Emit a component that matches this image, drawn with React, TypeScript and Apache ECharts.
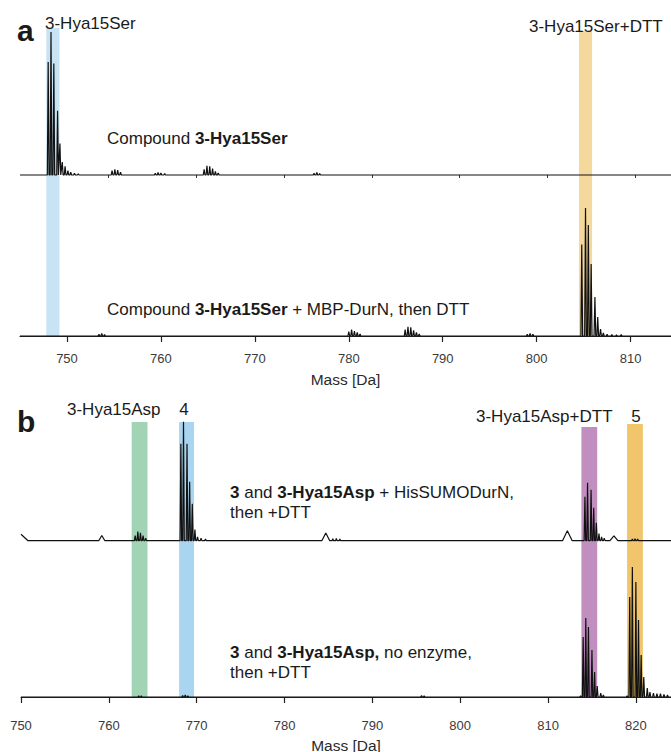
import React, { useEffect, useRef } from "react";
import * as echarts from "echarts";

// ---------- data ----------
const rangeA: [number, number] = [745, 814.3];
const rangeB: [number, number] = [750, 824];
const ticksA = [750, 760, 770, 780, 790, 800, 810];
const ticksB = [750, 760, 770, 780, 790, 800, 810, 820];
const baselineTicksA = [760, 770, 780, 790, 800, 810, 820];
const baselineTickRangeA: [number, number] = [749.9, 824.1];

// [mass (Da), relative intensity]
const serPeaks: [number, number][] = [
  [748.0, 79], [748.3, 100], [748.6, 78], [749.0, 45], [749.25, 22], [749.5, 9], [749.8, 6], [750.1, 3], [750.4, 2], [750.8, 1.2], [751.2, 0.8],
  [754.8, 3], [755.1, 4], [755.4, 3.5], [755.7, 2],
  [759.4, 1.2], [759.7, 1.8], [760.0, 1.5], [760.4, 1],
  [764.6, 4], [764.9, 6.5], [765.2, 6], [765.5, 4.5], [765.8, 2.5], [766.1, 1.5],
  [776.3, 1.2], [776.6, 1.8], [776.9, 1],
];

const serEnzymePeaks: [number, number][] = [
  [753.4, 1.2], [753.7, 1.8], [754.0, 1],
  [780.0, 3], [780.3, 4.5], [780.6, 3.5], [780.9, 2.5], [781.2, 1.5],
  [786.0, 4.5], [786.3, 6.5], [786.6, 6], [786.9, 4], [787.2, 2.5], [787.5, 1.5],
  [799.0, 1.2], [799.3, 1.8], [799.6, 1.2],
  [804.8, 64], [805.2, 89.5], [805.5, 77.6], [805.8, 50.3], [806.2, 27.3], [806.5, 13.3], [806.8, 4.9], [807.1, 2.1], [807.5, 1.2], [808.0, 1], [808.5, 0.8], [809.0, 1],
];

const aspEnzymePeaks: [number, number][] = [
  [763.0, 4], [763.3, 7], [763.6, 6], [763.9, 4], [764.2, 2],
  [768.2, 74.6], [768.5, 91.5], [768.9, 74.6], [769.2, 45.4], [769.5, 28.5], [769.8, 8.5], [770.1, 3], [770.5, 2], [771.0, 1.2],
  [785.5, 1.5], [785.9, 1.8], [786.3, 1.2],
  [814.2, 33.8], [814.5, 44.6], [814.9, 39.2], [815.2, 25.4], [815.5, 13.8], [815.8, 5.4], [816.1, 3], [816.4, 2],
  [819.6, 1.2], [819.9, 1.5], [820.2, 1.2],
];
// broad humps: [mass, intensity, half width]
const aspEnzymeHumps: [number, number, number][] = [
  [750.0, 5, 0.8], [759.2, 4, 0.35], [784.7, 6, 0.45], [812.2, 7.7, 0.55], [817.5, 3.8, 0.45],
];

const aspControlPeaks: [number, number][] = [
  [763.4, 0.8], [763.7, 1],
  [768.4, 1.2], [768.7, 1.5], [769.0, 1],
  [795.6, 1.2], [795.9, 1],
  [813.7, 1],
  [814.0, 46.2], [814.3, 60.8], [814.6, 53.8], [815.0, 36.2], [815.3, 19.2], [815.6, 8.5], [816.0, 3], [816.3, 1.5],
  [819.0, 1],
  [819.3, 76.9], [819.6, 100], [820.0, 88.5], [820.3, 59.2], [820.6, 32.3], [820.9, 15.4], [821.3, 6.9], [821.6, 3.8],
  [822.0, 3], [822.4, 2.5], [822.8, 2.5], [823.2, 2], [823.6, 1.5],
];

// highlighted mass windows [from, to]
const bandsA: [number, number][] = [[747.8, 749.2], [804.5, 805.9]];
const bandsB: [number, number][] = [[762.6, 764.4], [768.0, 769.7], [813.8, 815.6], [819.0, 820.8]];

// ---------- styling ----------
const FONT = "'Liberation Sans', Arial, Helvetica, sans-serif";
const TEXT = "#1a1a1a";
const bandColorsA = ["#c7e3f4", "#f5d89c"];
const bandTopsA = [28, 31];
const bandColorsB = ["#a0d4b4", "#a9d5f0", "#c08fc0", "#f0c56c"];
const bandTopsB = [422, 422, 427, 424];

function buildTrace(
  range: [number, number],
  sticks: [number, number][],
  humps: [number, number, number][] = [],
  half = 0.09
): [number, number][] {
  const pts: [number, number][] = [];
  sticks.forEach(([m, h]) => pts.push([m - half, 0], [m, h], [m + half, 0]));
  humps.forEach(([m, h, w]) => pts.push([m - w, 0], [m, h], [m + w, 0]));
  const level = (x: number) =>
    humps.reduce((acc, [m, h, w]) => Math.max(acc, h * (1 - Math.abs(m - x) / w)), 0);
  const inside = pts.filter((p) => p[0] > range[0] && p[0] < range[1]);
  inside.sort((a, b) => a[0] - b[0]);
  return [[range[0], level(range[0])], ...inside, [range[1], level(range[1])]];
}

function App() {
  const ref = useRef<HTMLDivElement>(null);

  useEffect(() => {
    if (!ref.current) return;
    const chart = echarts.init(ref.current, null, { renderer: "svg" });

    const lineBase = {
      type: "line" as const,
      showSymbol: false,
      symbol: "none",
      lineStyle: { color: "#111", width: 1.2 },
      clip: false,
      z: 3,
    };

    const hiddenY = (gridIndex: number) => ({
      type: "value" as const,
      gridIndex,
      min: 0,
      max: 100,
      show: false,
    });

    const labelStyle = { fontSize: 13, color: "#3a3a3a", fontFamily: FONT };

    const option: any = {
      animation: false,
      backgroundColor: "#fff",
      textStyle: { fontFamily: FONT },
      grid: [
        { left: 20, width: 651, top: 32, height: 143, outerBoundsMode: "none" },
        { left: 20, width: 651, top: 193, height: 143, outerBoundsMode: "none" },
        { left: 21, width: 650, top: 410.7, height: 130, outerBoundsMode: "none" },
        { left: 21, width: 650, top: 567, height: 130, outerBoundsMode: "none" },
      ],
      xAxis: [
        {
          type: "value", gridIndex: 0, position: "top", min: rangeA[0], max: rangeA[1], show: false,
        },
        {
          type: "value", gridIndex: 0, position: "bottom",
          min: baselineTickRangeA[0], max: baselineTickRangeA[1],
          axisLine: { show: false },
          axisTick: { show: true, length: 3, customValues: baselineTicksA, lineStyle: { color: "#333", width: 1 } },
          axisLabel: { show: false },
          splitLine: { show: false },
        },
        {
          type: "value", gridIndex: 1, position: "bottom", min: rangeA[0], max: rangeA[1],
          axisLine: { show: true, lineStyle: { color: "#222", width: 1.2 } },
          axisTick: { show: true, length: 6, customValues: ticksA, lineStyle: { color: "#222", width: 1.2 } },
          axisLabel: { ...labelStyle, margin: 16, customValues: ticksA },
          splitLine: { show: false },
          name: "Mass [Da]",
          nameLocation: "middle",
          nameGap: 43,
          nameMoveOverlap: false,
          nameTextStyle: { fontSize: 15.5, color: "#2a2a2a", fontFamily: FONT, verticalAlign: "middle" },
        },
        {
          type: "value", gridIndex: 2, position: "bottom", min: rangeB[0], max: rangeB[1], show: false,
        },
        {
          type: "value", gridIndex: 3, position: "bottom", min: rangeB[0], max: rangeB[1], offset: 7,
          axisLine: { show: true, lineStyle: { color: "#222", width: 1.2 } },
          axisTick: { show: true, length: 6, customValues: ticksB, lineStyle: { color: "#222", width: 1.2 } },
          axisLabel: { ...labelStyle, margin: 15, customValues: ticksB },
          splitLine: { show: false },
          name: "Mass [Da]",
          nameLocation: "middle",
          nameGap: 41,
          nameMoveOverlap: false,
          nameTextStyle: { fontSize: 15.5, color: "#2a2a2a", fontFamily: FONT, verticalAlign: "middle" },
        },
      ],
      yAxis: [hiddenY(0), hiddenY(1), hiddenY(2), hiddenY(3)],
      series: [
        {
          ...lineBase,
          name: "Compound 3-Hya15Ser",
          xAxisIndex: 0, yAxisIndex: 0,
          data: buildTrace(rangeA, serPeaks),
        },
        {
          ...lineBase,
          name: "Compound 3-Hya15Ser + MBP-DurN, then DTT",
          xAxisIndex: 2, yAxisIndex: 1,
          data: buildTrace(rangeA, serEnzymePeaks),
          markArea: {
            silent: true,
            z: 1,
            data: bandsA.map(([from, to], i) => [
              { xAxis: from, y: bandTopsA[i], itemStyle: { color: bandColorsA[i], opacity: 1 } },
              { xAxis: to, yAxis: 0 },
            ]),
          },
        },
        {
          ...lineBase,
          name: "3 and 3-Hya15Asp + HisSUMODurN, then +DTT",
          xAxisIndex: 3, yAxisIndex: 2,
          data: buildTrace(rangeB, aspEnzymePeaks, aspEnzymeHumps),
        },
        {
          ...lineBase,
          name: "3 and 3-Hya15Asp, no enzyme, then +DTT",
          xAxisIndex: 4, yAxisIndex: 3,
          data: buildTrace(rangeB, aspControlPeaks),
          markArea: {
            silent: true,
            z: 1,
            data: bandsB.map(([from, to], i) => [
              { xAxis: from, y: bandTopsB[i], itemStyle: { color: bandColorsB[i], opacity: 1 } },
              { xAxis: to, yAxis: 0 },
            ]),
          },
        },
      ],
      graphic: [
        txt("a", 17, 30, 30, "bold"),
        txt("b", 17, 421.5, 30, "bold"),
        txt("3-Hya15Ser", 45, 23),
        txt("3-Hya15Ser+DTT", 529, 26),
        rich("Compound {b|3-Hya15Ser}", 107, 138),
        rich("Compound {b|3-Hya15Ser} + MBP-DurN, then DTT", 107, 309),
        txt("3-Hya15Asp", 67, 409),
        txt("4", 184, 409, 17, "normal", "center"),
        txt("3-Hya15Asp+DTT", 476, 416),
        txt("5", 636, 416, 17, "normal", "center"),
        rich("{b|3} and {b|3-Hya15Asp} + HisSUMODurN,", 230, 492),
        txt("then +DTT", 230, 512),
        rich("{b|3} and {b|3-Hya15Asp,} no enzyme,", 230, 652),
        txt("then +DTT", 230, 672),
      ],
    };

    chart.setOption(option);
    return () => chart.dispose();
  }, []);

  return (
    <div
      ref={ref}
      style={{ position: "fixed", left: 0, top: 0, width: 671, height: 752, background: "#fff" }}
    />
  );
}

function txt(
  text: string,
  x: number,
  y: number,
  fontSize = 17,
  fontWeight = "normal",
  align = "left"
) {
  return {
    type: "text",
    x,
    y,
    z: 10,
    silent: true,
    style: {
      text,
      fill: TEXT,
      fontSize,
      fontWeight,
      fontFamily: FONT,
      align,
      verticalAlign: "middle",
    },
  };
}

function rich(text: string, x: number, y: number) {
  return {
    type: "text",
    x,
    y,
    z: 10,
    silent: true,
    style: {
      text,
      fill: TEXT,
      fontSize: 17,
      fontFamily: FONT,
      align: "left",
      verticalAlign: "middle",
      rich: {
        b: { fontWeight: "bold", fontSize: 17, fontFamily: FONT, fill: TEXT },
      },
    },
  };
}

export default App;
